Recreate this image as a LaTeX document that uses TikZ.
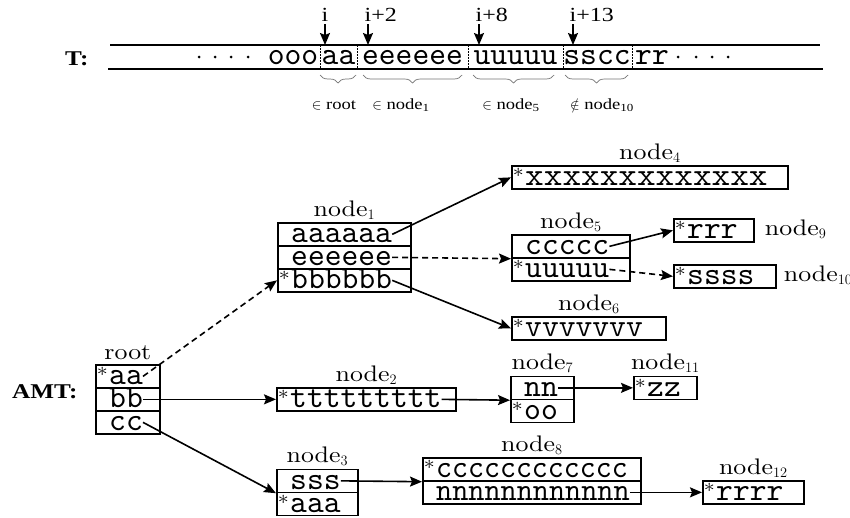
\documentclass[tikz,border=0pt]{standalone}
\usepackage{fontspec}
\usepackage{graphicx}
\newfontfamily\tms{Liberation Serif}[FakeStretch=1.2]
\newfontfamily\lmten{lmroman10-regular.otf}[FakeStretch=1.15]
\newfontfamily\lmtt{lmmono10-regular.otf}
\usetikzlibrary{arrows.meta,decorations.pathreplacing}
\newcommand\astk{\llap{\raisebox{3pt}{\fontsize{19}{19}\selectfont\lmten *}\hspace{1.5pt}}}
\newcommand\boxrow[5]{%
  \node[box, minimum width=#4pt] (#1) at (#2,#3) {};
  \node[txt] (#1t) at ([xshift=14pt]#1.west) {#5};}
\tikzset{
  box/.style={draw, line width=1.7pt, inner sep=0pt, minimum height=23pt, anchor=north west},
  txt/.style={inner sep=0pt, anchor=west, text height=19pt, text depth=2pt,
    font=\fontsize{32}{32}\selectfont\lmtt},
  ttxt/.style={inner sep=0pt, anchor=base, font=\fontsize{32}{32}\selectfont\lmtt},
  lbl/.style={inner sep=0pt, anchor=base, font=\fontsize{22.5}{22.5}\selectfont\lmten},
  tlab/.style={inner sep=0pt, anchor=base west, font=\fontsize{20}{20}\selectfont\tms},
  blab/.style={inner sep=0pt, anchor=base, font=\fontsize{15.5}{15.5}\selectfont\tms},
  big/.style={inner sep=0pt, anchor=base west, font=\fontsize{21}{21}\selectfont\tms\bfseries},
  arr/.style={line width=1.6pt, -{Stealth[length=12pt,width=10pt,inset=2pt]}},
  darr/.style={arr, dash pattern=on 6pt off 4pt},
  tline/.style={line width=1.9pt},
  sep/.style={line width=0.8pt, dash pattern=on 1.5pt off 1.5pt},
  brc/.style={draw=black!55, line width=0.7pt, decorate,
    decoration={brace, mirror, amplitude=8pt}},
}
\begin{document}
\begin{tikzpicture}[x=1pt,y=-1pt]
\useasboundingbox (0,0) rectangle (850,517);

% ---------- T row ----------
\node[big] (T) at (65,65) {T:};
\draw[tline] (110,45) -- (820,45);
\draw[tline] (108,69) -- (823,69);
\foreach \x in {320,357,468,563,632} \draw[sep] (\x,45) -- (\x,69);
\foreach \x in {199,215,231,248,678,696,712,728} \fill (\x,57) circle (1.5pt);
\node[ttxt] (sooo) at (293,64) {ooo};
\node[ttxt] (saa) at (338.5,64) {aa};
\node[ttxt] (see) at (412.5,64) {eeeeee};
\node[ttxt] (suu) at (515.5,64) {uuuuu};
\node[ttxt] (sss) at (597,64) {sscc};
\node[ttxt] (srr) at (652,64) {rr};

\node[tlab] (li) at (321.5,21) {i};
\node[tlab] (li2) at (364.5,21) {i+2};
\node[tlab] (li8) at (475.5,21) {i+8};
\node[tlab] (li13) at (569.5,21) {i+13};
\coordinate (ai) at (325,24);   \coordinate (bi) at (325,45);
\coordinate (ai2) at (368,24);  \coordinate (bi2) at (368,45);
\coordinate (ai8) at (479,24);  \coordinate (bi8) at (479,45);
\coordinate (ai13) at (573,24); \coordinate (bi13) at (573,45);
\draw[arr] (ai) -- (bi);
\draw[arr] (ai2) -- (bi2);
\draw[arr] (ai8) -- (bi8);
\draw[arr] (ai13) -- (bi13);

\draw[brc] (320,75) -- (356,75);
\draw[brc] (363,75) -- (462,75);
\draw[brc] (473,75) -- (554,75);
\draw[brc] (565,75) -- (628,75);
\node[blab] (b1) at (334,109) {$\in$ root};
\node[blab] (b2) at (401,109) {$\in$ node\textsubscript{1}};
\node[blab] (b3) at (511,109) {$\in$ node\textsubscript{5}};
\node[blab] (b4) at (602,109) {$\notin$ node\textsubscript{10}};

% ---------- AMT ----------
\node[big] (AMT) at (12,398) {AMT:};

\boxrow{r1}{95}{364}{64}{\astk aa}
\boxrow{r2}{95}{387}{64}{bb}
\boxrow{r3}{95}{410}{64}{cc}
\node[lbl] (lr) at ([yshift=5pt]r1.north) {root};

\boxrow{n1a}{277}{222}{133}{aaaaaa}
\boxrow{n1b}{277}{245}{133}{eeeeee}
\boxrow{n1c}{277}{268}{133}{\astk bbbbbb}
\node[lbl] (l1) at ([yshift=6pt]n1a.north) {node$_1$};

\boxrow{n2}{276}{387}{179}{\astk ttttttttt}
\node[lbl] (l2) at ([yshift=6pt]n2.north) {node$_2$};

\boxrow{n3a}{276}{468.5}{81}{sss}
\boxrow{n3b}{276}{491.5}{81}{\astk aaa}
\node[lbl] (l3) at ([yshift=6pt]n3a.north) {node$_3$};

\boxrow{n4}{511}{165}{276}{\astk\scalebox{1.11}[1]{xxxxxxxxxxxxx}}
\node[lbl] (l4) at ([yshift=6pt]n4.north) {node$_4$};

\boxrow{n5a}{511}{234}{118}{ccccc}
\boxrow{n5b}{511}{257}{118}{\astk uuuuu}
\node[lbl] (l5) at ([yshift=6pt]n5a.north) {node$_5$};

\boxrow{n6}{511}{316}{154}{\astk vvvvvvv}
\node[lbl] (l6) at ([yshift=6pt]n6.north) {node$_6$};

\boxrow{n7a}{510}{375.5}{63}{nn}
\boxrow{n7b}{510}{398.5}{63}{\astk oo}
\node[lbl] (l7) at ([yshift=6pt]n7a.north) {node$_7$};

\boxrow{n8a}{422}{457}{218}{\astk\scalebox{0.95}[1]{cccccccccccc}}
\boxrow{n8b}{422}{480}{218}{\scalebox{0.96}[1]{nnnnnnnnnnnn}}
\node[lbl] (l8) at ([yshift=6pt]n8a.north) {node$_8$};

\boxrow{n9}{673}{218}{80}{\astk rrr}
\node[lbl, anchor=base west] (l9) at ([xshift=10pt,yshift=-5pt]n9.east) {node$_9$};

\boxrow{n10}{673}{264}{102}{\astk ssss}
\node[lbl, anchor=base west] (l10) at ([xshift=7pt,yshift=-5pt]n10.east) {node$_{10}$};

\boxrow{n11}{633}{375.5}{63}{\astk zz}
\node[lbl] (l11) at ([yshift=6pt]n11.north) {node$_{11}$};

\boxrow{n12}{702}{480}{101}{\astk rrrr}
\node[lbl] (l12) at ([yshift=6pt]n12.north) {node$_{12}$};

% ---------- connectors ----------
\draw[darr] (r1t.east) -- (n1c.west);
\draw[arr] (r2t.east) -- (n2.west);
\draw[arr] (r3t.east) -- (n3a.south west);
\draw[arr] (n1at.east) -- (n4.west);
\draw[darr] (n1bt.east) -- (n5a.south west);
\draw[arr] (n1ct.east) -- (n6.west);
\draw[arr] (n2t.east) -- (n7a.south west);
\draw[arr] (n3at.east) -- (n8a.south west);
\draw[arr] (n5at.east) -- (n9.west);
\draw[darr] (n5bt.east) -- (n10.west);
\draw[arr] (n7at.east) -- (n11.west);
\draw[arr] (n8bt.east) -- (n12.west);
\end{tikzpicture}
\end{document}
